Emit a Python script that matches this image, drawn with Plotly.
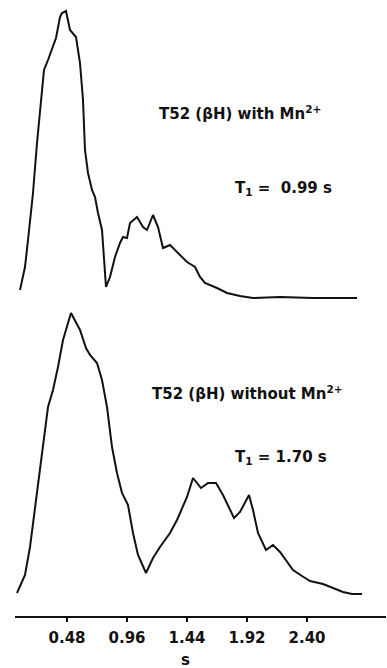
import plotly.graph_objects as go

# Top trace: T52 (betaH) with Mn2+  (time in s, relative intensity, arbitrary units)
t_with = [0.104, 0.144, 0.168, 0.208, 0.240, 0.280, 0.296, 0.328, 0.368, 0.392,
          0.424, 0.440, 0.472, 0.504, 0.552, 0.584, 0.608, 0.624, 0.648, 0.680,
          0.704, 0.728, 0.760, 0.792, 0.824, 0.864, 0.904, 0.928, 0.960, 0.984,
          1.040, 1.088, 1.120, 1.168, 1.208, 1.248, 1.304, 1.360, 1.400, 1.440,
          1.504, 1.544, 1.584, 1.680, 1.760, 1.864, 1.968, 2.184, 2.448, 2.800]
i_with = [8, 31, 58, 105, 155, 208, 228, 238, 251, 260,
          281, 285, 287, 268, 261, 235, 198, 148, 125, 108,
          101, 85, 68, 11, 21, 41, 55, 61, 60, 75,
          81, 71, 68, 83, 71, 50, 53, 46, 40, 36,
          31, 21, 15, 10, 5, 2, 0, 1, 0, 0]

# Bottom trace: T52 (betaH) without Mn2+
t_without = [0.080, 0.144, 0.184, 0.224, 0.264, 0.304, 0.328, 0.368, 0.408, 0.448,
             0.512, 0.584, 0.632, 0.664, 0.720, 0.760, 0.800, 0.840, 0.880, 0.920,
             0.968, 1.008, 1.048, 1.112, 1.168, 1.224, 1.304, 1.360, 1.440, 1.488,
             1.552, 1.608, 1.672, 1.728, 1.768, 1.816, 1.864, 1.936, 1.968, 2.008,
             2.072, 2.128, 2.184, 2.240, 2.288, 2.360, 2.424, 2.528, 2.608, 2.688,
             2.760, 2.840]
i_without = [1, 19, 47, 87, 127, 167, 187, 204, 227, 254,
             281, 264, 246, 239, 231, 214, 187, 147, 121, 101,
             89, 61, 39, 21, 36, 47, 61, 74, 97, 116,
             106, 111, 111, 99, 89, 76, 82, 99, 84, 61,
             44, 49, 42, 32, 24, 18, 13, 10, 6, 2,
             0, 0]

tick_vals = [0.48, 0.96, 1.44, 1.92, 2.40]
tick_text = ["0.48", "0.96", "1.44", "1.92", "2.40"]
x_title = "s"

FONT = "DejaVu Sans, Arial, sans-serif"
INK = "#111111"

fig = go.Figure()
fig.add_trace(go.Scatter(x=t_with, y=i_with, mode="lines", xaxis="x", yaxis="y2",
                         line=dict(color=INK, width=2), showlegend=False, hoverinfo="skip"))
fig.add_trace(go.Scatter(x=t_without, y=i_without, mode="lines", xaxis="x", yaxis="y",
                         line=dict(color=INK, width=2), showlegend=False, hoverinfo="skip"))

fig.update_layout(
    width=387, height=668,
    margin=dict(l=15, r=1, t=0, b=52, autoexpand=False),
    paper_bgcolor="white", plot_bgcolor="white",
    font=dict(family=FONT, color=INK, size=15),
    xaxis=dict(range=[0.064, 3.032], tickvals=tick_vals, ticktext=tick_text,
               showline=True, linecolor=INK, linewidth=2, ticks="outside",
               ticklen=4, tickwidth=1.5, tickcolor=INK, showgrid=False, zeroline=False,
               tickfont=dict(family=FONT, size=15, weight="bold"),
               ticklabelstandoff=3, anchor="y"),
    yaxis=dict(domain=[0, 0.5], range=[-22, 286], visible=False),
    yaxis2=dict(domain=[0.5, 1], range=[-10, 298], visible=False, anchor="x"),
)

ann_font = dict(family=FONT, size=15, color=INK, weight="bold")
fig.add_annotation(text=x_title, x=1.43, y=-0.0715, xref="x", yref="paper",
                   xanchor="center", yanchor="middle", showarrow=False, font=ann_font)
fig.add_annotation(text="T52 (βH) with Mn<sup>2+</sup>", x=1.2, y=185, xref="x", yref="y2",
                   xanchor="left", yanchor="middle", showarrow=False, font=ann_font)
fig.add_annotation(text="T<sub>1</sub> =&nbsp; 0.99 s", x=1.808, y=110, xref="x", yref="y2",
                   xanchor="left", yanchor="middle", showarrow=False, font=ann_font)
fig.add_annotation(text="T52 (βH) without Mn<sup>2+</sup>", x=1.144, y=201, xref="x", yref="y",
                   xanchor="left", yanchor="middle", showarrow=False, font=ann_font)
fig.add_annotation(text="T<sub>1</sub> = 1.70 s", x=1.808, y=137, xref="x", yref="y",
                   xanchor="left", yanchor="middle", showarrow=False, font=ann_font)

fig.write_html("out.html")
